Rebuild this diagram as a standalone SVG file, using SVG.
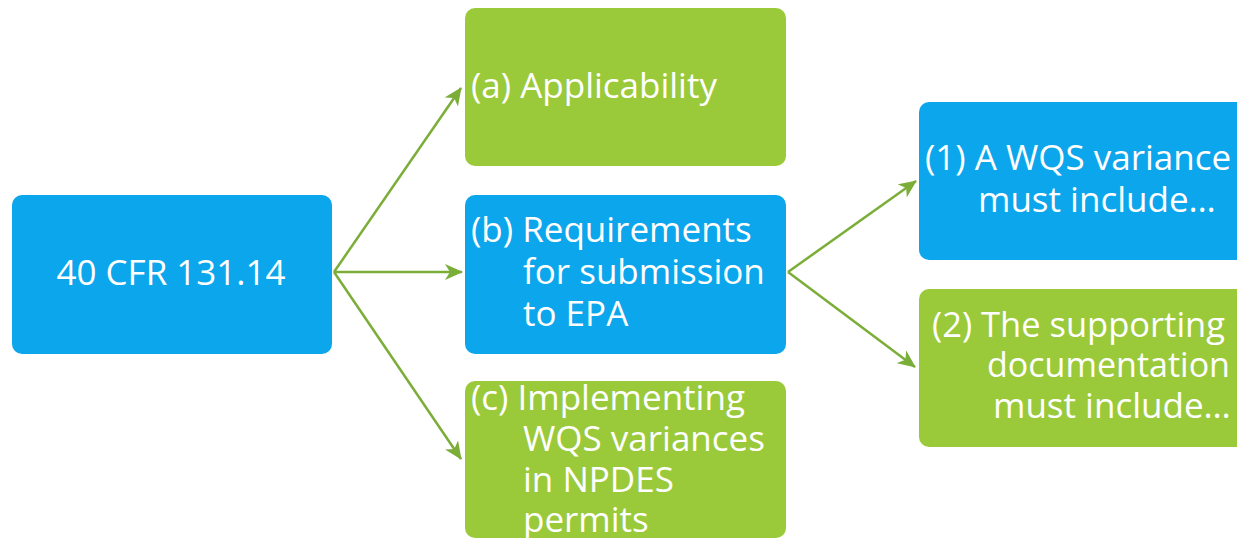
<svg xmlns="http://www.w3.org/2000/svg" width="1237" height="539" viewBox="0 0 1237 539">
<style>
.blue{fill:#0BA6EC;}
.green{fill:#9ACA3A;}
.t{font-family:"Open Sans","Liberation Sans",sans-serif;font-size:35px;fill:#FFFFFF;}
.c{fill:none;stroke:#7BAE38;stroke-width:2.5;}
</style>
<defs>
<marker id="ah" markerUnits="userSpaceOnUse" markerWidth="18" markerHeight="16" viewBox="0 0 18 16" refX="17" refY="8" orient="auto">
<path d="M0,0 L18,8 L0,16 L5,8 Z" fill="#7BAE38"/>
</marker>
</defs>
<rect width="1237" height="539" fill="#FFFFFF"/>
<g id="connectors">
<path class="c" d="M334,272 L461,88" marker-end="url(#ah)"/>
<path class="c" d="M334,272 L462,272" marker-end="url(#ah)"/>
<path class="c" d="M334,272 L461,459" marker-end="url(#ah)"/>
<path class="c" d="M788,272 L916,181" marker-end="url(#ah)"/>
<path class="c" d="M788,272 L915,367" marker-end="url(#ah)"/>
</g>
<g id="root">
<rect class="blue" x="12" y="195" width="320" height="159" rx="10"/>
<text class="t" x="171" y="285" text-anchor="middle">40 CFR 131.14</text>
</g>
<g id="a">
<rect class="green" x="465" y="8" width="321" height="158" rx="10"/>
<text class="t" x="471" y="98">(a) Applicability</text>
</g>
<g id="b">
<rect class="blue" x="465" y="195" width="321" height="159" rx="10"/>
<text class="t" x="471" y="242">(b) Requirements</text>
<text class="t" x="523" y="284">for submission</text>
<text class="t" x="523" y="326">to EPA</text>
</g>
<g id="c">
<rect class="green" x="465" y="381" width="321" height="157" rx="10"/>
<text class="t" x="471" y="410">(c) Implementing</text>
<text class="t" x="523" y="451">WQS variances</text>
<text class="t" x="523" y="492">in NPDES</text>
<text class="t" x="523" y="532">permits</text>
</g>
<g id="n1">
<rect class="blue" x="919" y="102" width="328" height="158" rx="10"/>
<text class="t" x="925" y="170">(1) A WQS variance</text>
<text class="t" x="978" y="212">must include…</text>
</g>
<g id="n2">
<rect class="green" x="919" y="289" width="328" height="158" rx="10"/>
<text class="t" x="932" y="337" textLength="293" lengthAdjust="spacingAndGlyphs">(2) The supporting</text>
<text class="t" x="987" y="377" textLength="243" lengthAdjust="spacingAndGlyphs">documentation</text>
<text class="t" x="993" y="418">must include…</text>
</g>
</svg>
